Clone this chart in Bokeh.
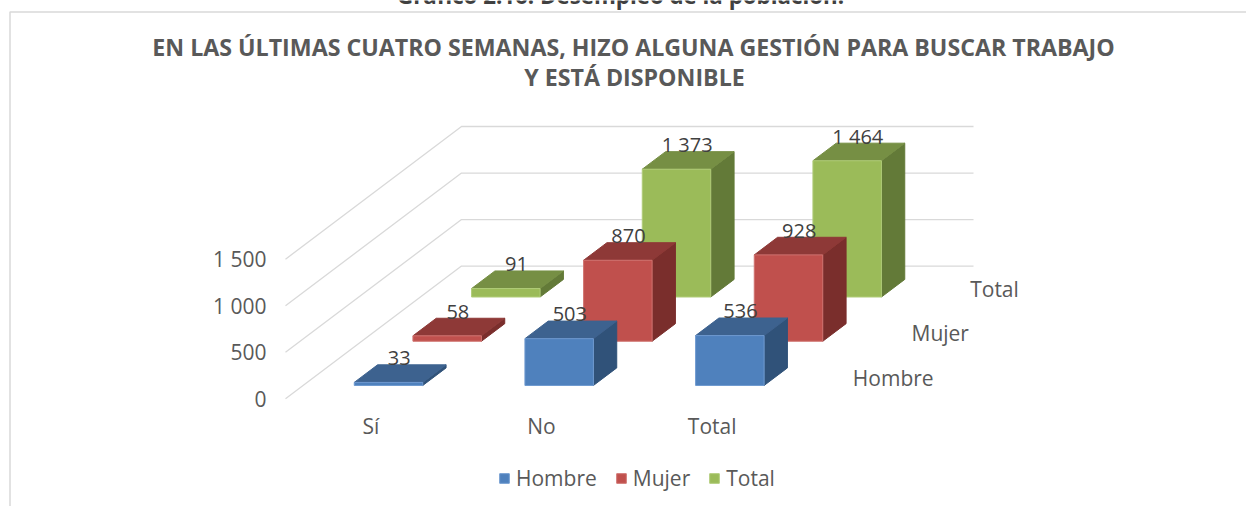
from bokeh.plotting import figure
from bokeh.models import Range1d, Legend, LegendItem
from bokeh.core.properties import value
from bokeh.embed import file_html
from bokeh.resources import INLINE

categories = ["Sí", "No", "Total"]
series_names = ["Hombre", "Mujer", "Total"]
hombre = [33, 503, 536]
mujer = [58, 870, 928]
total = [91, 1373, 1464]
value_labels = {33: "33", 58: "58", 91: "91", 503: "503", 870: "870", 1373: "1 373",
                536: "536", 928: "928", 1464: "1 464"}
y_ticks = [0, 500, 1000, 1500]
y_tick_labels = ["0", "500", "1 000", "1 500"]
title_lines = ["EN LAS ÚLTIMAS CUATRO SEMANAS, HIZO ALGUNA GESTIÓN PARA BUSCAR TRABAJO",
               "Y ESTÁ DISPONIBLE"]

FRONT = ["#4F81BD", "#C0504D", "#9BBB59"]
TOP = ["#3D628F", "#8E3937", "#768F44"]
SIDE = ["#305279", "#7A2E2C", "#637A38"]
EDGE = ["#6F9AD0", "#D07370", "#B0CC78"]
GREY = "#595959"
GRID = "#D9D9D9"
FONT = "Open Sans"
FS = "21px"

# oblique projection of (category position, value, depth) into page pixels
X0, Y0 = 285.0, 398.3
CAT_W = 170.67
DX, DY = 176.0, 132.7
V = 139.6 / 1500


def proj(c, v, d):
    return X0 + c * CAT_W + d * DX, Y0 - v * V - d * DY


W = 1246
H = 506
p = figure(width=W, height=H, output_backend="svg", toolbar_location=None,
           x_range=Range1d(0, W), y_range=Range1d(H, 0), min_border=0,
           x_axis_type=None, y_axis_type=None, outline_line_color=None)
p.xgrid.visible = False
p.ygrid.visible = False

# chart frame
p.line([9.5, 9.5, W], [H, 11.5, 11.5], line_color=GRID, line_width=1.5)

# walls
n_cat = len(categories)
for t in y_ticks:
    a, b, c = proj(0, t, 0), proj(0, t, 1), proj(n_cat, t, 1)
    p.line([a[0], b[0], c[0]], [a[1], b[1], c[1]], line_color=GRID, line_width=1.3)

BAR_W = 68.5 / CAT_W
BAR_D = 0.1325
fronts = []
data = [hombre, mujer, total]
for s in [2, 1, 0]:
    d0 = s / 3 + (1 / 3 - BAR_D) / 2
    d1 = d0 + BAR_D
    side_x, side_y, top_x, top_y, front_x, front_y = [], [], [], [], [], []
    for c, v in enumerate(data[s]):
        c0 = c + 0.5 - BAR_W / 2
        c1 = c0 + BAR_W
        pts = [proj(c1, 0, d0), proj(c1, 0, d1), proj(c1, v, d1), proj(c1, v, d0)]
        side_x.append([q[0] for q in pts]); side_y.append([q[1] for q in pts])
        pts = [proj(c0, v, d0), proj(c1, v, d0), proj(c1, v, d1), proj(c0, v, d1)]
        top_x.append([q[0] for q in pts]); top_y.append([q[1] for q in pts])
        pts = [proj(c0, 0, d0), proj(c1, 0, d0), proj(c1, v, d0), proj(c0, v, d0)]
        front_x.append([q[0] for q in pts]); front_y.append([q[1] for q in pts])
    p.patches(side_x, side_y, fill_color=SIDE[s], line_color=SIDE[s], line_width=1)
    p.patches(top_x, top_y, fill_color=TOP[s], line_color=TOP[s], line_width=1)
    r = p.patches(front_x, front_y, fill_color=FRONT[s], line_color=EDGE[s], line_width=1)
    fronts.insert(0, r)


def label(x, y, t, align="center", size=FS, style="normal", color=GREY, baseline="middle"):
    p.text([x], [y], text=[t], text_align=align, text_baseline=baseline,
           text_font=value(FONT), text_font_size=size, text_font_style=style,
           text_color=color)


# value labels sit above the centre of each bar's top face
for s, vals in enumerate(data):
    d_mid = s / 3 + 1 / 6
    for c, v in enumerate(vals):
        x, y = proj(c + 0.5, v, d_mid)
        label(x - 1, y - 15.5, value_labels[v], size="20px", color="#404040")

# axis labels
for t, lab in zip(y_ticks, y_tick_labels):
    x, y = proj(0, t, 0)
    label(x - 19, y, lab, align="right")
for c, lab in enumerate(categories):
    x, y = proj(c + 0.5, 0, 0)
    label(x, y + 27, lab)
for s, lab in enumerate(series_names):
    x, y = proj(n_cat, 0, s / 3 + 1 / 6)
    label(x + 26, y + 1, lab, align="left")

# titles
label(620, -5, "Gráfico 2.16. Desempleo de la población.", size="22.3px", style="bold",
      color="#404040", baseline="alphabetic")
label(633, 46, title_lines[0], size="23.2px", style="bold")
label(634, 76, title_lines[1], size="23.2px", style="bold")

legend = Legend(items=[LegendItem(label=n, renderers=[r]) for n, r in zip(series_names, fronts)],
                orientation="horizontal", location=(498, 14), glyph_width=12, glyph_height=12,
                label_standoff=6, spacing=18, margin=0, padding=0,
                border_line_alpha=0, background_fill_alpha=0,
                label_text_font=FONT, label_text_font_size=FS, label_text_color=GREY)
p.add_layout(legend, "center")

open("out.html", "w").write(file_html(p, INLINE))
